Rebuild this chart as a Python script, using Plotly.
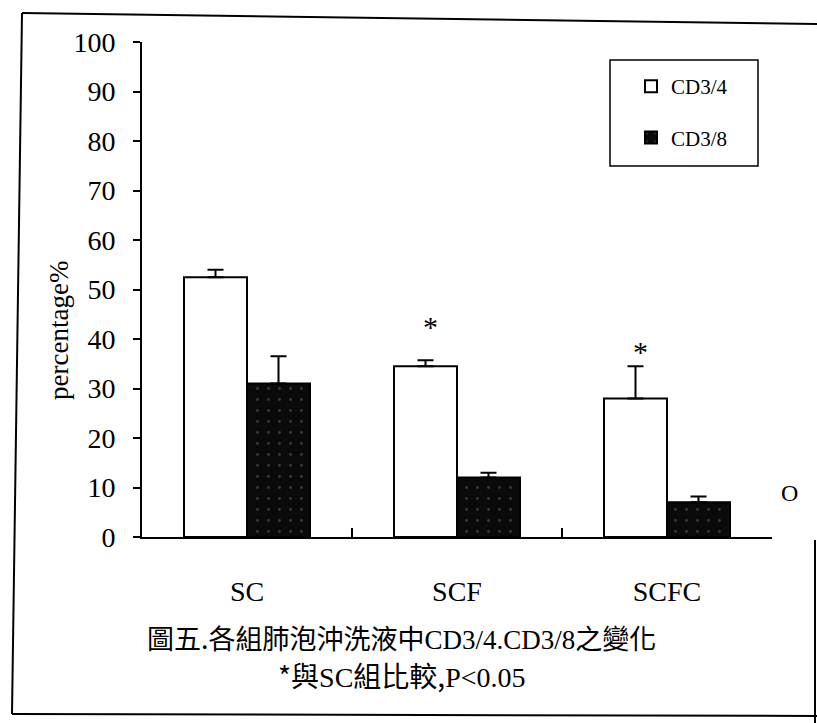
import plotly.graph_objects as go

W, H = 817, 723

groups = ["SC", "SCF", "SCFC"]
cd34 = [52.5, 34.5, 28.0]
cd34_err = [1.5, 1.2, 6.5]
cd38 = [31.0, 12.0, 7.0]
cd38_err = [5.5, 1.0, 1.2]
star_groups = ["SCF", "SCFC"]
star_y = [42.5, 37.5]
y_ticks = list(range(0, 101, 10))
series_names = ["CD3/4", "CD3/8"]

serif = "Liberation Serif, Times New Roman, serif"
cjk = "Noto Sans CJK TC, Noto Sans CJK SC, sans-serif"

def latin(s):
    return '<span style="font-family:Liberation Serif">' + s + '</span>'

caption1 = "圖五.各組肺泡沖洗液中" + latin("CD3/4.CD3/8") + "之變化"
caption2 = "*與" + latin("SC") + "組比較," + latin("P&lt;0.05")

# plot region in pixels
PX0, PX1 = 142, 772
PY_TOP, PY_BOT = 42, 537

def fx(px):
    return px / W

def fy(py):
    return 1 - py / H

fig = go.Figure()
fig.add_trace(go.Bar(
    name=series_names[0], x=groups, y=cd34, legendgroup="a",
    marker=dict(color="white", line=dict(color="black", width=2)),
    error_y=dict(type="data", symmetric=False, array=cd34_err,
                 arrayminus=[0] * len(cd34_err), color="black",
                 thickness=2, width=8),
))
fig.add_trace(go.Bar(
    name=series_names[1], x=groups, y=cd38, legendgroup="b",
    marker=dict(color="#0a0a0a", line=dict(color="black", width=2),
                pattern=dict(shape=".", bgcolor="#0a0a0a", fgcolor="#3a3a3a",
                             size=11, solidity=0.05)),
    error_y=dict(type="data", symmetric=False, array=cd38_err,
                 arrayminus=[0] * len(cd38_err), color="black",
                 thickness=2, width=8),
))

annotations = []
for g, yv in zip(star_groups, star_y):
    annotations.append(dict(x=g, y=yv, xref="x", yref="y", text="*",
                            showarrow=False, xshift=-27,
                            font=dict(family=serif, size=30, color="black")))

annotations += [
    dict(x=fx(42), y=fy(331), xref="paper", yref="paper", text="percentage%",
         textangle=-90, showarrow=False,
         font=dict(family=serif, size=27, color="black")),
    dict(x=fx(401), y=fy(659), xref="paper", yref="paper", text=caption1,
         showarrow=False, font=dict(family=cjk, size=27, color="black")),
    dict(x=fx(402), y=fy(697), xref="paper", yref="paper", text=caption2,
         showarrow=False, font=dict(family=cjk, size=28, color="black")),
    dict(x=fx(800), y=fy(508), xref="paper", yref="paper", text="O",
         showarrow=False, font=dict(family=serif, size=24, color="black")),
]

shapes = [
    # legend box
    dict(type="rect", xref="paper", yref="paper", x0=fx(610), x1=fx(758),
         y0=fy(166), y1=fy(60), line=dict(color="black", width=1.5)),
    # scanned page frame
    dict(type="line", xref="paper", yref="paper", x0=fx(22), y0=fy(13),
         x1=fx(817), y1=fy(24), line=dict(color="black", width=2)),
    dict(type="line", xref="paper", yref="paper", x0=fx(22), y0=fy(13),
         x1=fx(12), y1=fy(714), line=dict(color="black", width=2)),
    dict(type="line", xref="paper", yref="paper", x0=fx(12), y0=fy(714),
         x1=fx(817), y1=fy(716), line=dict(color="black", width=2)),
    dict(type="line", xref="paper", yref="paper", x0=fx(815), y0=fy(540),
         x1=fx(815), y1=fy(723), line=dict(color="black", width=2)),
]

fig.update_layout(
    width=W, height=H,
    template="none",
    paper_bgcolor="white", plot_bgcolor="white",
    margin=dict(l=0, r=0, t=0, b=0),
    barmode="group", bargap=0.4, bargroupgap=0.0,
    showlegend=True,
    legend=dict(x=fx(631), y=fy(66), xanchor="left", yanchor="top",
                bgcolor="rgba(0,0,0,0)", borderwidth=0,
                font=dict(family=serif, size=21, color="black"),
                tracegroupgap=21, itemwidth=30, traceorder="grouped"),
    annotations=annotations,
    shapes=shapes,
    xaxis=dict(domain=[fx(PX0), fx(PX1)], showgrid=False, zeroline=False,
               showline=True, linecolor="black", linewidth=2,
               ticks="inside", tickson="boundaries", ticklen=9,
               tickwidth=2, tickcolor="black", automargin=False,
               ticklabelstandoff=28,
               tickfont=dict(family=serif, size=28, color="black")),
    yaxis=dict(domain=[fy(PY_BOT), fy(PY_TOP)], range=[0, 100],
               tickvals=y_ticks, showgrid=False, zeroline=False,
               showline=True, linecolor="black", linewidth=2,
               ticks="outside", ticklen=7, tickwidth=2, tickcolor="black",
               automargin=False, ticklabelstandoff=12,
               tickfont=dict(family=serif, size=28, color="black")),
)

fig.write_html("out.html")
